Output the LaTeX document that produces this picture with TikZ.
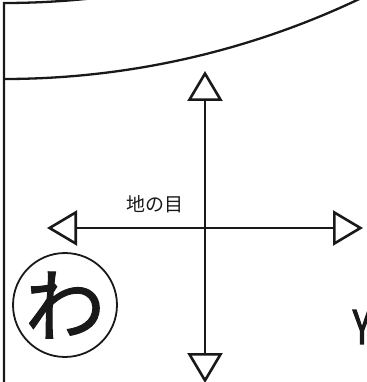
\documentclass[tikz,border=0pt]{standalone}
\usepackage{fontspec}
\newfontfamily\jpfont{Noto Sans CJK JP}
\newfontfamily\jpheavy[FakeBold=3]{Noto Sans CJK JP}
\newfontfamily\jpmedium[FakeBold=1.2]{Noto Sans CJK JP}
\usetikzlibrary{arrows.meta,positioning}

\begin{document}
\begin{tikzpicture}[
      x=1pt,y=1pt,
      every node/.style={inner sep=0pt,text=black!90},
      fabric/.style={draw=black!90,line width=2.3pt,line join=miter},
      grain/.style={draw=black!90,line width=2.6pt,
                    {Triangle[open,length=30pt,width=35pt]}-{Triangle[open,length=30pt,width=35pt]}},
      ringmark/.style={circle,draw=black!90,line width=1.8pt,minimum size=103pt},
    ]
      \path[use as bounding box] (0,0) rectangle (366,-382);
      % pattern outline
      \draw[fabric] (4,-390) -- (4,-3) arc[start angle=270,end angle=280,radius=829pt];
      \draw[fabric] (4,-79) arc[start angle=270,end angle=298,radius=829pt];
      % grain arrows
      \coordinate (up) at (205,-71);
      \coordinate (down) at (205,-383);
      \coordinate (left) at (47,-228);
      \coordinate (right) at (363,-228);
      \path[grain] (down) -- (up);
      \path[grain] (left) -- (right);
      \node (grainlabel) at (155,-204) {\jpfont\fontsize{19}{19}\selectfont 地の目};
      \node[ringmark] (wa) at (65,-305) {\jpmedium\fontsize{80}{80}\selectfont わ};
      \node (cut) at (362,-327) {\scalebox{0.75}[1]{\jpheavy\fontsize{46}{46}\selectfont Y}};
    \end{tikzpicture}
\end{document}
